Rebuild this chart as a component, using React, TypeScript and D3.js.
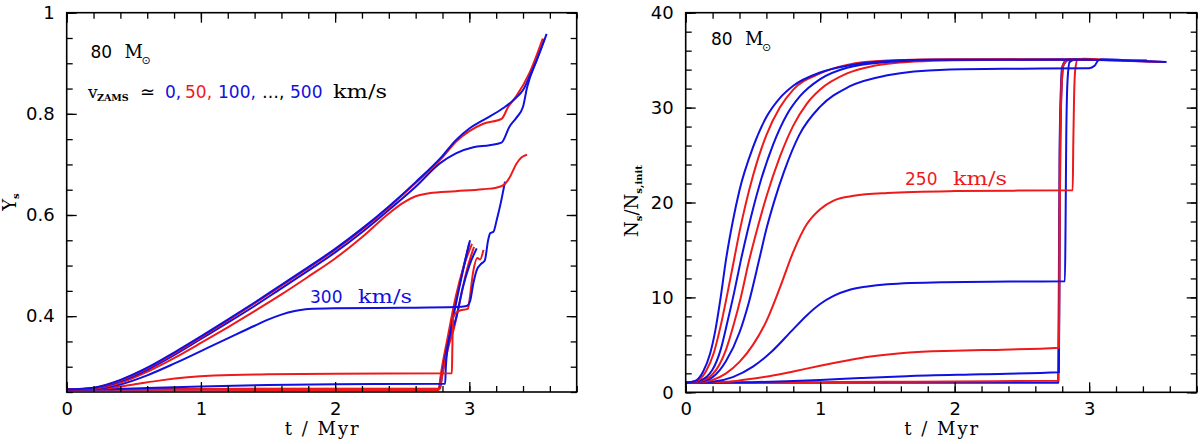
import React, { useEffect, useRef } from "react";
import * as d3 from "d3";

const BLUE = "#1010e0";
const RED = "#ee1a1a";

// rotation velocities of the 80 Msun models, colours alternate blue / red
const velocities = [0, 50, 100, 150, 200, 250, 300, 350, 400, 450, 500];

// left panel: surface helium Y_s against t (Myr)
const ys0 = [[0, 0.255], [1, 0.2548], [2, 0.2547], [2.77, 0.2546], [2.79, 0.28], [2.84, 0.35], [2.9, 0.43], [2.95, 0.49], [3.0, 0.545]];
const ys50 = [[0, 0.255], [1, 0.2543], [2, 0.254], [2.772, 0.254], [2.785, 0.28], [2.84, 0.36], [2.9, 0.44], [2.96, 0.5], [3.02, 0.543]];
const ys100 = [[0, 0.255], [0.5, 0.2555], [1, 0.256], [2, 0.2565], [2.78, 0.2567], [2.8, 0.29], [2.86, 0.37], [2.92, 0.45], [2.97, 0.51], [3.005, 0.55]];
const ys150 = [[0, 0.255], [0.5, 0.2555], [1, 0.2557], [2, 0.256], [2.78, 0.256], [2.8, 0.285], [2.85, 0.345], [2.88, 0.37], [2.93, 0.43], [2.98, 0.49], [3.035, 0.537]];
const ys200 = [[0, 0.255], [0.3, 0.2555], [0.6, 0.258], [1, 0.261], [1.5, 0.264], [2, 0.2655], [2.82, 0.2665], [2.825, 0.3], [2.85, 0.355], [2.87, 0.372], [2.9, 0.395], [2.95, 0.455], [3.0, 0.5], [3.055, 0.534]];
const ys250 = [[0, 0.255], [0.3, 0.2575], [0.5, 0.265], [0.7, 0.273], [0.9, 0.279], [1.1, 0.2825], [1.5, 0.285], [2.0, 0.286], [2.87, 0.287], [2.873, 0.33], [2.88, 0.399], [2.92, 0.41], [2.99, 0.415], [3.0, 0.43], [3.03, 0.49], [3.06, 0.515], [3.08, 0.512], [3.105, 0.531]];
const ys300 = [[0, 0.255], [0.2, 0.256], [0.4, 0.265], [0.6, 0.283], [0.8, 0.306], [1.0, 0.331], [1.2, 0.356], [1.4, 0.381], [1.5, 0.393], [1.6, 0.403], [1.7, 0.41], [1.8, 0.414], [2.0, 0.4155], [2.5, 0.4165], [2.9, 0.418], [2.98, 0.42], [3.005, 0.429], [3.03, 0.465], [3.055, 0.491], [3.09, 0.504], [3.115, 0.51], [3.14, 0.55], [3.155, 0.564], [3.18, 0.567], [3.204, 0.59], [3.235, 0.625], [3.266, 0.666]];
const ys350 = [[0, 0.255], [0.2, 0.2565], [0.4, 0.268], [0.6, 0.29], [0.8, 0.317], [1.0, 0.347], [1.2, 0.378], [1.4, 0.41], [1.6, 0.443], [1.8, 0.478], [2.0, 0.514], [2.2, 0.556], [2.4, 0.603], [2.5, 0.623], [2.6, 0.637], [2.7, 0.643], [2.9, 0.647], [3.1, 0.651], [3.2, 0.654], [3.26, 0.66], [3.3, 0.674], [3.35, 0.701], [3.39, 0.714], [3.43, 0.719]];
const ys400 = [[0, 0.255], [0.2, 0.2575], [0.4, 0.271], [0.6, 0.294], [0.8, 0.323], [1.0, 0.355], [1.2, 0.387], [1.4, 0.42], [1.6, 0.455], [1.8, 0.49], [2.0, 0.526], [2.2, 0.566], [2.4, 0.61], [2.6, 0.656], [2.78, 0.702], [2.9, 0.722], [3.03, 0.734], [3.15, 0.738], [3.24, 0.743], [3.3, 0.775], [3.35, 0.792], [3.4, 0.814], [3.43, 0.852], [3.5, 0.905], [3.56, 0.948]];
const ys450 = [[0, 0.255], [0.2, 0.258], [0.4, 0.273], [0.6, 0.297], [0.8, 0.326], [1.0, 0.358], [1.2, 0.391], [1.4, 0.425], [1.6, 0.46], [1.8, 0.495], [2.0, 0.531], [2.2, 0.571], [2.4, 0.615], [2.6, 0.663], [2.8, 0.714], [2.9, 0.745], [3.0, 0.766], [3.1, 0.78], [3.24, 0.79], [3.29, 0.814], [3.35, 0.835], [3.45, 0.882], [3.547, 0.949]];
const ys500 = [[0, 0.255], [0.2, 0.2585], [0.4, 0.274], [0.6, 0.298], [0.8, 0.328], [1.0, 0.36], [1.2, 0.393], [1.4, 0.427], [1.6, 0.462], [1.8, 0.497], [2.0, 0.533], [2.2, 0.573], [2.4, 0.617], [2.6, 0.665], [2.8, 0.717], [2.9, 0.748], [3.0, 0.771], [3.1, 0.787], [3.25, 0.811], [3.35, 0.832], [3.4, 0.847], [3.45, 0.875], [3.5, 0.905], [3.576, 0.958]];

// right panel: N_s / N_s,init against t (Myr)
const ns0 = [[0, 1], [1, 1], [2, 1], [2.77, 1.0], [2.775, 12], [2.78, 25], [2.79, 32], [2.8, 34.3], [2.83, 35], [3.0, 35.05]];
const ns50 = [[0, 1], [0.5, 1.01], [1, 1.07], [1.5, 1.11], [2, 1.15], [2.772, 1.22], [2.777, 12], [2.782, 25], [2.792, 32], [2.805, 34.4], [2.84, 35.05], [3.02, 35.05]];
const ns100 = [[0, 1], [0.3, 1.02], [0.5, 1.07], [0.75, 1.17], [1.0, 1.3], [1.3, 1.5], [1.64, 1.7], [2.2, 1.9], [2.775, 2.1], [2.78, 13], [2.785, 25], [2.795, 32], [2.81, 34.5], [2.85, 35.05], [3.005, 35.05]];
const ns150 = [[0, 1], [0.3, 1.1], [0.45, 1.35], [0.62, 1.7], [0.8, 2.2], [1.0, 2.8], [1.2, 3.35], [1.36, 3.75], [1.64, 4.18], [2.0, 4.38], [2.21, 4.45], [2.775, 4.7], [2.78, 14], [2.785, 25], [2.795, 32], [2.81, 34.5], [2.85, 35.1], [3.035, 35.05]];
const ns200 = [[0, 1], [0.1, 1.02], [0.2, 1.1], [0.35, 1.6], [0.5, 2.7], [0.64, 4.3], [0.79, 6.5], [0.9, 8.1], [1.0, 9.3], [1.1, 10.15], [1.22, 10.8], [1.35, 11.15], [1.5, 11.38], [1.93, 11.6], [2.5, 11.68], [2.82, 11.7], [2.825, 18], [2.83, 27], [2.84, 33], [2.855, 34.8], [2.9, 35.1], [3.055, 35.05]];
const ns250 = [[0, 1], [0.1, 1.05], [0.2, 1.3], [0.3, 2.0], [0.4, 3.2], [0.5, 5.0], [0.6, 7.5], [0.7, 11.0], [0.8, 14.8], [0.9, 17.7], [1.0, 19.3], [1.1, 20.2], [1.25, 20.7], [1.5, 21.0], [2.0, 21.2], [2.878, 21.3], [2.882, 26], [2.888, 31], [2.897, 34], [2.915, 35.1], [2.96, 35.15], [3.105, 35.05]];
const ns300 = [[0, 1], [0.1, 1.1], [0.2, 1.6], [0.3, 3.3], [0.4, 6.3], [0.47, 9.5], [0.55, 14.2], [0.6, 17.2], [0.66, 20.2], [0.73, 23.2], [0.844, 27.1], [1.0, 30.1], [1.214, 32.2], [1.5, 33.4], [1.926, 34.0], [2.5, 34.1], [3.0, 34.15], [3.04, 34.4], [3.07, 35], [3.1, 35.1], [3.27, 35.0]];
const ns350 = [[0, 1], [0.1, 1.15], [0.2, 1.9], [0.3, 4.5], [0.36, 7.3], [0.41, 10], [0.47, 13.8], [0.53, 17.1], [0.6, 20.6], [0.7, 24.8], [0.8, 28.1], [0.9, 30.4], [1.0, 31.9], [1.2, 33.6], [1.4, 34.4], [1.7, 34.85], [2.0, 35.0], [2.8, 35.05], [3.43, 35.0]];
const ns400 = [[0, 1], [0.1, 1.2], [0.2, 2.4], [0.26, 4.5], [0.31, 7.4], [0.36, 10.5], [0.41, 13.9], [0.46, 17.0], [0.55, 21.9], [0.65, 26.1], [0.75, 29.2], [0.85, 31.2], [1.0, 33.0], [1.2, 34.2], [1.5, 34.8], [1.9, 35.05], [2.8, 35.1], [3.0, 35.05], [3.56, 34.8]];
const ns450 = [[0, 1], [0.08, 1.2], [0.15, 2.2], [0.21, 4.2], [0.26, 7], [0.31, 10.4], [0.36, 14], [0.4, 16.9], [0.5, 22.8], [0.6, 27.1], [0.7, 30], [0.8, 31.9], [1.0, 33.6], [1.2, 34.5], [1.5, 34.95], [2.0, 35.1], [3.0, 35.05], [3.547, 34.8]];
const ns500 = [[0, 1], [0.07, 1.2], [0.13, 2.2], [0.18, 4.0], [0.22, 6.5], [0.26, 10], [0.3, 14], [0.35, 18], [0.4, 21.3], [0.5, 25.8], [0.6, 29.0], [0.7, 31.0], [0.8, 32.3], [1.0, 33.7], [1.2, 34.4], [1.4, 34.8], [1.8, 35.05], [3.0, 35.05], [3.576, 34.8]];

const ysSeries = [ys0, ys50, ys100, ys150, ys200, ys250, ys300, ys350, ys400, ys450, ys500];
const nsSeries = [ns0, ns50, ns100, ns150, ns200, ns250, ns300, ns350, ns400, ns450, ns500];

const timeTicks = [0, 1, 2, 3];
const ysTicks = [0.4, 0.6, 0.8, 1];
const nsTicks = [0, 10, 20, 30, 40];

const NUM_FONT = "DejaVu Sans";
const TXT_FONT = "DejaVu Serif";

type Panel = {
  left: number;
  top: number;
  width: number;
  height: number;
  yDomain: [number, number];
  yMajor: number[];
  yMinorStep: number;
  yFormat: (d: number) => string;
  series: number[][][];
};

function drawPanel(svg: d3.Selection<SVGSVGElement, unknown, null, undefined>, p: Panel) {
  const g = svg.append("g").attr("transform", `translate(${p.left},${p.top})`);
  const x = d3.scaleLinear().domain([0, 3.8]).range([0, p.width]);
  const y = d3.scaleLinear().domain(p.yDomain).range([p.height, 0]);

  const line = d3
    .line<number[]>()
    .x((d) => x(d[0]))
    .y((d) => y(d[1]))
    .curve(d3.curveMonotoneX);

  p.series.forEach((data, i) => {
    g.append("path")
      .datum(data)
      .attr("d", line)
      .attr("fill", "none")
      .attr("stroke", velocities[i] % 100 === 0 ? BLUE : RED)
      .attr("stroke-width", 2)
      .attr("stroke-linejoin", "round");
  });

  const xMinor = d3.range(0, 3.8001, 0.2);
  const yMinor = d3.range(p.yDomain[0], p.yDomain[1] + 1e-6, p.yMinorStep);

  const tidy = (sel: d3.Selection<SVGGElement, unknown, null, undefined>) => {
    sel.select(".domain").remove();
    sel.selectAll(".tick line").attr("stroke", "#000").attr("stroke-width", 1.3);
    sel.selectAll(".tick text")
      .attr("fill", "#000")
      .attr("font-family", NUM_FONT)
      .attr("font-size", 18);
  };

  // minor ticks on all four sides, pointing inwards
  g.append("g").attr("transform", `translate(0,${p.height})`)
    .call(d3.axisBottom(x).tickValues(xMinor).tickSize(-6).tickFormat(() => "")).call(tidy);
  g.append("g")
    .call(d3.axisTop(x).tickValues(xMinor).tickSize(-6).tickFormat(() => "")).call(tidy);
  g.append("g")
    .call(d3.axisLeft(y).tickValues(yMinor).tickSize(-6).tickFormat(() => "")).call(tidy);
  g.append("g").attr("transform", `translate(${p.width},0)`)
    .call(d3.axisRight(y).tickValues(yMinor).tickSize(-6).tickFormat(() => "")).call(tidy);

  // major ticks
  g.append("g").attr("transform", `translate(0,${p.height})`)
    .call(d3.axisBottom(x).tickValues(timeTicks).tickSize(-10).tickPadding(10).tickFormat(d3.format("d"))).call(tidy);
  g.append("g")
    .call(d3.axisTop(x).tickValues(timeTicks).tickSize(-10).tickFormat(() => "")).call(tidy);
  g.append("g")
    .call(d3.axisLeft(y).tickValues(p.yMajor).tickSize(-10).tickPadding(12).tickFormat((d) => p.yFormat(d as number))).call(tidy);
  g.append("g").attr("transform", `translate(${p.width},0)`)
    .call(d3.axisRight(y).tickValues(p.yMajor).tickSize(-10).tickFormat(() => "")).call(tidy);

  g.append("rect")
    .attr("width", p.width)
    .attr("height", p.height)
    .attr("fill", "none")
    .attr("stroke", "#000")
    .attr("stroke-width", 1.6);

  g.append("text")
    .attr("x", p.width / 2)
    .attr("y", p.height + 43)
    .attr("text-anchor", "middle")
    .attr("font-family", TXT_FONT)
    .attr("font-size", 18)
    .attr("textLength", 74)
    .attr("lengthAdjust", "spacing")
    .text("t / Myr");

  return { g, x, y };
}

function massLabel(svg: d3.Selection<SVGSVGElement, unknown, null, undefined>, x: number, y: number) {
  const t = svg.append("text").attr("x", x).attr("y", y).attr("fill", "#000");
  t.append("tspan").attr("font-family", NUM_FONT).attr("font-size", 17).text("80");
  t.append("tspan").attr("x", x + 34).attr("font-family", TXT_FONT).attr("font-size", 18).text("M");
  t.append("tspan").attr("x", x + 51).attr("dy", 6).attr("font-family", NUM_FONT).attr("font-size", 11).text("\u2299");
}

const App: React.FC = () => {
  const svgRef = useRef<SVGSVGElement | null>(null);

  useEffect(() => {
    const el = svgRef.current;
    if (!el) return;
    const svg = d3.select(el);
    svg.selectAll("*").remove();

    // left panel
    drawPanel(svg, {
      left: 66.7, top: 12.7, width: 510, height: 379.3,
      yDomain: [0.25, 1], yMajor: ysTicks, yMinorStep: 0.05,
      yFormat: (d) => (d === 1 ? "1" : d.toFixed(1)),
      series: ysSeries,
    });

    // right panel
    drawPanel(svg, {
      left: 685.7, top: 12.7, width: 511, height: 379.6,
      yDomain: [0, 40], yMajor: nsTicks, yMinorStep: 2,
      yFormat: (d) => String(d),
      series: nsSeries,
    });

    massLabel(svg, 90.5, 58);
    massLabel(svg, 711, 45);

    // v_ZAMS line
    const vz = svg.append("text").attr("y", 98).attr("fill", "#000");
    vz.append("tspan").attr("x", 88).attr("font-family", TXT_FONT).attr("font-size", 17).text("v");
    vz.append("tspan").attr("x", 97).attr("dy", 3).attr("font-family", TXT_FONT)
      .attr("font-size", 9.5).attr("font-weight", "bold").text("ZAMS");
    vz.append("tspan").attr("x", 140).attr("dy", -3).attr("font-family", NUM_FONT).attr("font-size", 18).text("\u2243");
    const parts: [string, string, number][] = [
      ["0,", BLUE, 165],
      ["50,", RED, 185],
      ["100,", BLUE, 218],
      ["\u2026,", "#000", 262],
      ["500", BLUE, 290],
    ];
    parts.forEach(([s, c, px]) => {
      vz.append("tspan").attr("x", px).attr("fill", c).attr("font-family", NUM_FONT).attr("font-size", 17).text(s);
    });
    svg.append("text").attr("x", 333).attr("y", 98).attr("font-family", TXT_FONT).attr("font-size", 18)
      .attr("textLength", 54).attr("lengthAdjust", "spacingAndGlyphs").text("km/s");

    // curve annotations
    const ann = (x: number, y: number, v: string, color: string) => {
      const t = svg.append("text").attr("x", x).attr("y", y).attr("fill", color);
      t.append("tspan").attr("font-family", NUM_FONT).attr("font-size", 17).text(v);
      t.append("tspan").attr("x", x + 48).attr("font-family", TXT_FONT).attr("font-size", 18)
        .attr("textLength", 54).attr("lengthAdjust", "spacingAndGlyphs").text("km/s");
    };
    ann(310, 303, "300", BLUE);
    ann(905, 185, "250", RED);

    // y axis titles
    const yl = svg.append("text")
      .attr("transform", "translate(16,202) rotate(-90)")
      .attr("text-anchor", "middle")
      .attr("font-family", TXT_FONT)
      .attr("font-size", 18);
    yl.append("tspan").text("Y");
    yl.append("tspan").attr("dy", 3).attr("font-size", 10).attr("font-weight", "bold").text("s");

    const yr = svg.append("text")
      .attr("transform", "translate(638,201) rotate(-90)")
      .attr("text-anchor", "middle")
      .attr("font-family", TXT_FONT)
      .attr("font-size", 18);
    yr.append("tspan").text("N");
    yr.append("tspan").attr("dy", 4).attr("font-size", 10).attr("font-weight", "bold").text("s");
    yr.append("tspan").attr("dy", -4).text("/N");
    yr.append("tspan").attr("dy", 4).attr("font-size", 10).attr("font-weight", "bold").text("s,init");
  }, []);

  return (
    <svg
      ref={svgRef}
      width={1200}
      height={444}
      style={{ position: "absolute", left: 0, top: 0, background: "#fff" }}
    />
  );
};

export default App;
